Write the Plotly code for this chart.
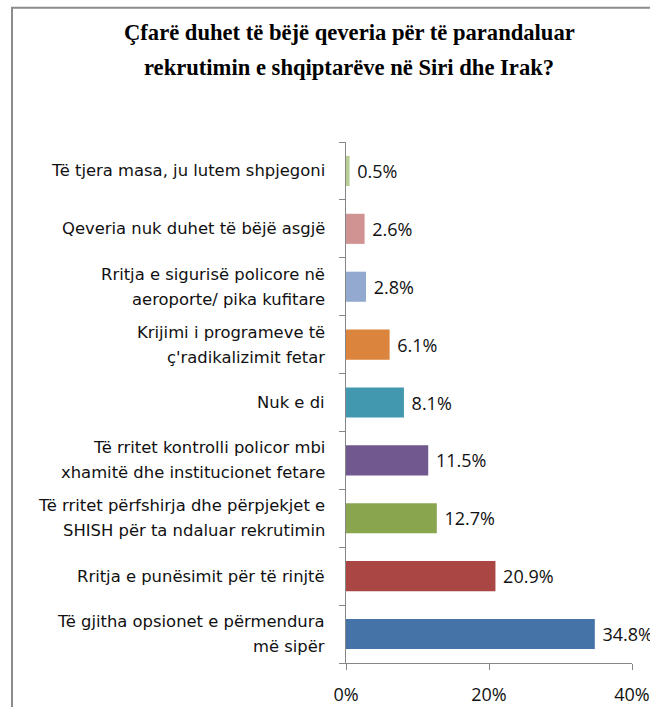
import plotly.graph_objects as go

categories = [
    "Të gjitha opsionet e përmendura\nmë sipër",
    "Rritja e punësimit për të rinjtë",
    "Të rritet përfshirja dhe përpjekjet e\nSHISH për ta ndaluar rekrutimin",
    "Të rritet kontrolli policor mbi\nxhamitë dhe institucionet fetare",
    "Nuk e di",
    "Krijimi i programeve të\nç'radikalizimit fetar",
    "Rritja e sigurisë policore në\naeroporte/ pika kufitare",
    "Qeveria nuk duhet të bëjë asgjë",
    "Të tjera masa, ju lutem shpjegoni",
]
values = [34.8, 20.9, 12.7, 11.5, 8.1, 6.1, 2.8, 2.6, 0.5]
colors = ["#4572A7", "#AA4643", "#89A54E", "#71588F", "#4198AF",
          "#DB843D", "#93A9CF", "#D19392", "#B9CD96"]
x_ticks = [0, 20, 40]
x_tick_labels = ["0%", "20%", "40%"]
title_lines = ["Çfarë duhet të bëjë qeveria për të parandaluar",
               "rekrutimin e shqiptarëve në Siri dhe Irak?"]

W, H = 650, 707
L, R, T, B = 346, 18, 142, 44
pw, ph = W - L - R, H - T - B

fig = go.Figure(go.Bar(
    x=values, y=categories, orientation="h",
    marker=dict(color=colors, line=dict(width=0)),
    text=[f" {v:.1f}%" for v in values],
    textposition="outside",
    textfont=dict(family="Open Sans", size=18, color="#111111"),
    cliponaxis=False,
    hoverinfo="skip",
))

annotations = []
for cat in categories:
    lines = cat.split("\n")
    n = len(lines)
    for i, line in enumerate(lines):
        shift = ((n - 1) / 2 - i) * 25
        annotations.append(dict(
            x=0, xref="paper", y=cat, yref="y", text=line, showarrow=False,
            xanchor="right", yanchor="middle", xshift=-19, yshift=shift,
            font=dict(family="DejaVu Sans", size=16.4, color="#111111"),
        ))

title_y = [33, 67]
for line, yp in zip(title_lines, title_y):
    annotations.append(dict(
        x=(349 - L) / pw, xref="paper", y=(H - B - yp) / ph, yref="paper",
        text=f"<b>{line}</b>", showarrow=False, xanchor="center", yanchor="middle",
        font=dict(family="Liberation Serif", size=22.6, color="#000000"),
    ))

fig.update_layout(
    width=W, height=H, autosize=False,
    margin=dict(l=L, r=R, t=T, b=B, autoexpand=False),
    paper_bgcolor="white", plot_bgcolor="white",
    showlegend=False,
    bargap=0.48,
    annotations=annotations,
    shapes=[dict(
        type="rect", xref="paper", yref="paper",
        x0=(12 - L) / pw, x1=(W + 20 - L) / pw,
        y0=(H - B - (H + 20)) / ph, y1=(H - B - 7.7) / ph,
        line=dict(color="#8c8c8c", width=2), fillcolor="rgba(0,0,0,0)",
        layer="above",
    )],
    xaxis=dict(
        range=[0, 40], tickvals=x_ticks, ticktext=x_tick_labels,
        automargin=False,
        showgrid=False, zeroline=False,
        showline=True, linecolor="#868686", linewidth=1,
        ticks="outside", ticklen=6, tickcolor="#868686",
        ticklabelstandoff=9,
        tickfont=dict(family="Open Sans", size=18, color="#111111"),
        fixedrange=True,
    ),
    yaxis=dict(
        automargin=False,
        showticklabels=False, showgrid=False, zeroline=False,
        showline=True, linecolor="#868686", linewidth=1,
        ticks="outside", ticklen=6, tickcolor="#868686",
        tickson="boundaries", fixedrange=True,
    ),
)

fig.write_html(
    "out.html",
    config={"displayModeBar": False},
    post_script="document.body.style.margin='0';document.body.style.overflow='hidden';",
)
